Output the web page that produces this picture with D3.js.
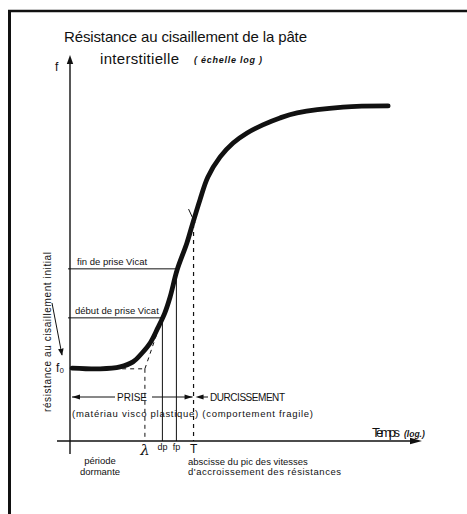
<!DOCTYPE html>
<html>
<head>
<meta charset="utf-8">
<script src="https://cdn.jsdelivr.net/npm/d3@7"></script>
<style>
  html, body { margin: 0; padding: 0; background: #fff; }
  svg { display: block; }
  text { font-family: "Liberation Sans", Arial, sans-serif; fill: #111; }
</style>
</head>
<body>
<svg id="chart" width="467" height="514"></svg>
<script>
// Shear strength curve of the interstitial paste (log scale) versus time (log)
const curveTime     = [0.06, 0.86, 1.43, 1.80, 2.06, 2.29, 2.51, 2.71, 2.86, 3.06, 3.34, 3.51, 3.71, 3.94, 4.29, 4.66, 5.06, 5.51, 6.00, 6.49, 7.80, 9.09];
const curveStrength = [1.89, 1.87, 1.92, 2.05, 2.28, 2.54, 2.93, 3.32, 3.73, 4.43, 5.13, 5.65, 6.24, 6.84, 7.36, 7.72, 7.98, 8.19, 8.37, 8.50, 8.65, 8.68];

// Characteristic times on the time axis
const markerNames  = ["λ", "dp", "fp", "T"];
const markerTimes  = [2.14, 2.64, 3.04, 3.53];

// Characteristic strength levels
const levelNames   = ["f₀", "début de prise Vicat", "fin de prise Vicat"];
const levelValues  = [1.87, 3.19, 4.46];

// Tangent at the inflection, drawn back to the dormant level
const tangentTime     = [2.14, 2.49];
const tangentStrength = [1.87, 2.80];
const peakStrength    = 5.62;

const svg = d3.select("#chart");
const x = d3.scaleLinear().domain([0, 10]).range([70, 420]);
const y = d3.scaleLinear().domain([0, 10]).range([441, 55]);

const ink = "#111";

// frame
svg.append("line").attr("x1", 9.5).attr("y1", 10).attr("x2", 9.5).attr("y2", 514)
  .attr("stroke", ink).attr("stroke-width", 3);
svg.append("line").attr("x1", 8).attr("y1", 11).attr("x2", 467).attr("y2", 11)
  .attr("stroke", ink).attr("stroke-width", 2.5);

// axes
svg.append("line").attr("x1", x(0)).attr("y1", y(0) + 13).attr("x2", x(0)).attr("y2", y(10) + 6)
  .attr("stroke", ink).attr("stroke-width", 1.4);
svg.append("path")
  .attr("d", `M${x(0)},${y(10)} L${x(0) - 3.2},${y(10) + 9} L${x(0) + 3.2},${y(10) + 9} Z`)
  .attr("fill", ink);
svg.append("line").attr("x1", x(0) - 13).attr("y1", y(0)).attr("x2", x(10) - 6).attr("y2", y(0))
  .attr("stroke", ink).attr("stroke-width", 1.4);
svg.append("path")
  .attr("d", `M${x(10) + 2},${y(0)} L${x(10) - 10},${y(0) - 3.2} L${x(10) - 10},${y(0) + 3.2} Z`)
  .attr("fill", ink);

// title
svg.append("text").attr("x", 64).attr("y", 42).attr("font-size", 15)
  .attr("textLength", 243).text("Résistance  au cisaillement de la pâte");
svg.append("text").attr("x", 100).attr("y", 64).attr("font-size", 15)
  .attr("textLength", 79).text("interstitielle");
svg.append("text").attr("x", 194).attr("y", 63).attr("font-size", 9)
  .attr("font-style", "italic").attr("font-weight", "bold")
  .attr("textLength", 68).text("( échelle  log )");
svg.append("text").attr("x", 55).attr("y", 71).attr("font-size", 12).text("f");

// x-axis title
svg.append("text").attr("x", 372).attr("y", 437).attr("font-size", 13)
  .attr("textLength", 28).text("Temps");
svg.append("text").attr("x", 404).attr("y", 437).attr("font-size", 8.5)
  .attr("font-style", "italic").attr("font-weight", "bold").text("(log.)");

// rotated y label and its pointer to f0
svg.append("text")
  .attr("transform", `translate(51,412) rotate(-90)`)
  .attr("font-size", 10).attr("textLength", 160)
  .text("résistance  au cisaillement initial");
svg.append("defs").append("marker")
  .attr("id", "tip").attr("viewBox", "0 0 10 10").attr("refX", 9).attr("refY", 5)
  .attr("markerWidth", 7).attr("markerHeight", 7).attr("orient", "auto")
  .append("path").attr("d", "M0,1 L10,5 L0,9 Z").attr("fill", ink);
svg.append("line").attr("x1", 52).attr("y1", 303).attr("x2", 62).attr("y2", 355)
  .attr("stroke", ink).attr("stroke-width", 1).attr("marker-end", "url(#tip)");
svg.append("text").attr("x", 56).attr("y", y(levelValues[0]) + 3).attr("font-size", 12)
  .text(levelNames[0]);

// Vicat levels: horizontal from the axis to the curve, then down to the time axis
const vicat = [
  { level: levelValues[1], name: levelNames[1], t: markerTimes[1], lx: 75 },
  { level: levelValues[2], name: levelNames[2], t: markerTimes[2], lx: 77 }
];
vicat.forEach(v => {
  svg.append("line").attr("x1", x(0) - 2).attr("y1", y(v.level)).attr("x2", x(v.t)).attr("y2", y(v.level))
    .attr("stroke", ink).attr("stroke-width", 1);
  svg.append("line").attr("x1", x(v.t)).attr("y1", y(v.level)).attr("x2", x(v.t)).attr("y2", y(0))
    .attr("stroke", ink).attr("stroke-width", 1);
  svg.append("text").attr("x", v.lx).attr("y", y(v.level) - 4).attr("font-size", 9.5)
    .text(v.name);
});

// dashed construction lines
const dash = "4,4";
svg.append("line").attr("x1", x(1.49)).attr("y1", y(levelValues[0]))
  .attr("x2", x(markerTimes[0])).attr("y2", y(levelValues[0]))
  .attr("stroke", ink).attr("stroke-width", 1).attr("stroke-dasharray", dash);
svg.append("line").attr("x1", x(markerTimes[0])).attr("y1", y(levelValues[0]))
  .attr("x2", x(markerTimes[0])).attr("y2", y(0))
  .attr("stroke", ink).attr("stroke-width", 1).attr("stroke-dasharray", dash);
svg.append("line").attr("x1", x(tangentTime[0])).attr("y1", y(tangentStrength[0]))
  .attr("x2", x(tangentTime[1])).attr("y2", y(tangentStrength[1]))
  .attr("stroke", ink).attr("stroke-width", 1).attr("stroke-dasharray", dash);
svg.append("line").attr("x1", x(markerTimes[3])).attr("y1", y(peakStrength))
  .attr("x2", x(markerTimes[3])).attr("y2", y(0))
  .attr("stroke", ink).attr("stroke-width", 1.2).attr("stroke-dasharray", dash);

// the strength curve
const line = d3.line().x(d => x(d[0])).y(d => y(d[1])).curve(d3.curveCatmullRom.alpha(0.5));
svg.append("path")
  .datum(d3.zip(curveTime, curveStrength))
  .attr("d", line)
  .attr("fill", "none").attr("stroke", ink).attr("stroke-width", 4.8)
  .attr("stroke-linecap", "round").attr("stroke-linejoin", "round");

// small tick marking the inflection
svg.append("line").attr("x1", x(markerTimes[3]) - 5).attr("y1", y(peakStrength) - 15)
  .attr("x2", x(markerTimes[3]) + 1.5).attr("y2", y(peakStrength) - 1)
  .attr("stroke", ink).attr("stroke-width", 1);

// time-axis markers
const markerStyle = [
  { size: 15, dy: 14, style: "italic", family: "DejaVu Serif, serif" },
  { size: 9, dy: 9, style: "normal", family: null },
  { size: 9, dy: 9, style: "normal", family: null },
  { size: 12, dy: 12, style: "normal", family: null }
];
markerNames.forEach((m, i) => {
  const t = svg.append("text").attr("x", x(markerTimes[i])).attr("y", y(0) + markerStyle[i].dy)
    .attr("text-anchor", "middle").attr("font-size", markerStyle[i].size)
    .attr("font-style", markerStyle[i].style).text(m);
  if (markerStyle[i].family) t.style("font-family", markerStyle[i].family);
});

// PRISE / DURCISSEMENT phases
const rowY = 397;
svg.append("line").attr("x1", x(0) + 2).attr("y1", rowY).attr("x2", 115).attr("y2", rowY)
  .attr("stroke", ink).attr("stroke-width", 1);
svg.append("path").attr("d", `M${x(0) + 2},${rowY} l8,-2.6 l0,5.2 Z`).attr("fill", ink);
svg.append("text").attr("x", 132).attr("y", rowY + 4).attr("text-anchor", "middle")
  .attr("font-size", 10).text("PRISE");
svg.append("line").attr("x1", 152).attr("y1", rowY).attr("x2", x(markerTimes[3]) - 1).attr("y2", rowY)
  .attr("stroke", ink).attr("stroke-width", 1);
svg.append("path").attr("d", `M${x(markerTimes[3]) - 1},${rowY} l-8,-2.6 l0,5.2 Z`).attr("fill", ink);
svg.append("path").attr("d", `M${x(markerTimes[3]) + 2},${rowY} l8,-2.6 l0,5.2 Z`).attr("fill", ink);
svg.append("line").attr("x1", x(markerTimes[3]) + 6).attr("y1", rowY).attr("x2", 208).attr("y2", rowY)
  .attr("stroke", ink).attr("stroke-width", 1);
svg.append("text").attr("x", 210).attr("y", rowY + 4).attr("font-size", 10)
  .attr("textLength", 75).text("DURCISSEMENT");
svg.append("text").attr("x", 72).attr("y", 417).attr("font-size", 9.5)
  .attr("textLength", 241).text("(matériau visco  plastique) (comportement  fragile)");

// notes under the time axis
svg.append("text").attr("x", 100).attr("y", 464).attr("text-anchor", "middle")
  .attr("font-size", 9.5).text("période");
svg.append("text").attr("x", 100).attr("y", 475).attr("text-anchor", "middle")
  .attr("font-size", 9.5).text("dormante");
svg.append("text").attr("x", 188).attr("y", 465).attr("font-size", 9.5)
  .text("abscisse du pic des vitesses");
svg.append("text").attr("x", 188).attr("y", 475).attr("font-size", 9.5)
  .attr("textLength", 153).text("d'accroissement des résistances");
</script>
</body>
</html>
